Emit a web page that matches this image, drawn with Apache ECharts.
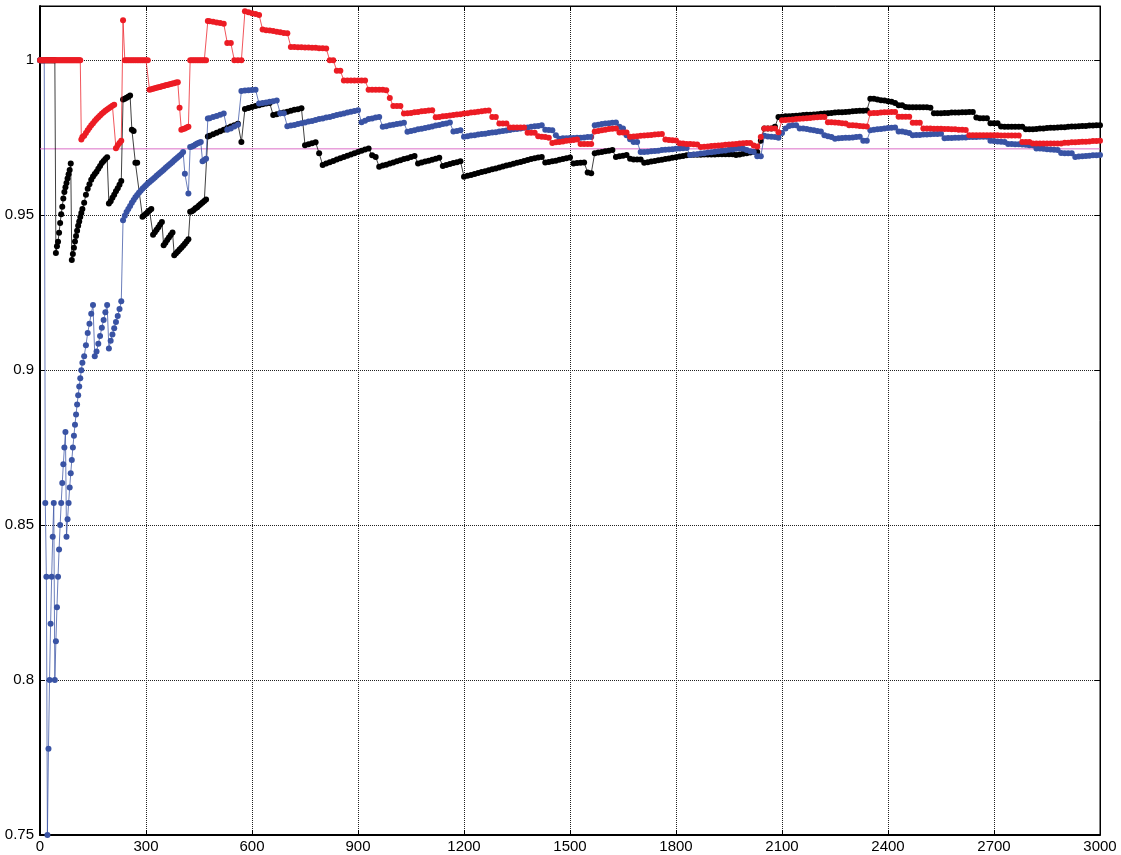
<!DOCTYPE html>
<html>
<head>
<meta charset="utf-8">
<script src="https://cdn.jsdelivr.net/npm/echarts@6/dist/echarts.min.js"></script>
<style>
  html, body { margin: 0; padding: 0; background: #fff; }
  #chart { width: 1121px; height: 855px; }
</style>
</head>
<body>
<div id="chart"></div>
<script>
// Sample positions: every 3 at the start, every 5 through the early swings, then every 10.
const xsEarly = [0,3,6,9,12,15,18,21,24,27,30,33,36,39,42,45,48,51,54,57,60,63,66,69,72,75,78,81,84,87,90,93,96,99,102,105,108,111,114,117,120];
const xsMid = [
  125,130,135,140,145,150,155,160,165,170,175,180,185,190,195,
  200,205,210,215,220,225,230,235,240,245,250,255,260,265,270,275,280,285,290,295,
  300,305,310,315,320,325,330,335,340,345,350,355,360,365,370,375,380,385,390,395,
  400,405,410,415,420,425,430,435,440,445,450,455,460,465,470,475
];
const xsLate = [
  480,490,
  500,510,520,530,540,550,560,570,580,590,
  600,610,620,630,640,650,660,670,680,690,
  700,710,720,730,740,750,760,770,780,790,
  800,810,820,830,840,850,860,870,880,890,
  900,910,920,930,940,950,960,970,980,990,
  1000,1010,1020,1030,1040,1050,1060,1070,1080,1090,
  1100,1110,1120,1130,1140,1150,1160,1170,1180,1190,
  1200,1210,1220,1230,1240,1250,1260,1270,1280,1290,
  1300,1310,1320,1330,1340,1350,1360,1370,1380,1390,
  1400,1410,1420,1430,1440,1450,1460,1470,1480,1490,
  1500,1510,1520,1530,1540,1550,1560,1570,1580,1590,
  1600,1610,1620,1630,1640,1650,1660,1670,1680,1690,
  1700,1710,1720,1730,1740,1750,1760,1770,1780,1790,
  1800,1810,1820,1830,1840,1850,1860,1870,1880,1890,
  1900,1910,1920,1930,1940,1950,1960,1970,1980,1990,
  2000,2010,2020,2030,2040,2050,2060,2070,2080,2090,
  2100,2110,2120,2130,2140,2150,2160,2170,2180,2190,
  2200,2210,2220,2230,2240,2250,2260,2270,2280,2290,
  2300,2310,2320,2330,2340,2350,2360,2370,2380,2390,
  2400,2410,2420,2430,2440,2450,2460,2470,2480,2490,
  2500,2510,2520,2530,2540,2550,2560,2570,2580,2590,
  2600,2610,2620,2630,2640,2650,2660,2670,2680,2690,
  2700,2710,2720,2730,2740,2750,2760,2770,2780,2790,
  2800,2810,2820,2830,2840,2850,2860,2870,2880,2890,
  2900,2910,2920,2930,2940,2950,2960,2970,2980,2990,
  3000
];

const redEarly = [
  1,1,1,1,1,1,1,1,1,1,
  1,1,1,1,1,1,1,1,1,1,
  1,1,1,1,1,1,1,1,1,1,
  1,1,1,1,1,1,1,1,1,
  0.9744,0.9752
];
const redMid = [
  0.9756,0.9765,0.9774,0.9782,0.979,0.9797,0.9804,0.981,0.9816,0.9822,0.9827,0.9832,0.9837,0.9841,0.9845,
  0.9849,0.9853,0.9856,0.9716,0.9726,0.9733,0.974,1.0129,1,1,1,1,1,1,1,1,1,1,1,1,
  1,1,0.9905,0.9906,0.9908,0.991,0.9911,0.9913,0.9914,0.9916,0.9917,0.9919,0.992,0.9922,0.9923,0.9925,0.9926,0.9928,0.9929,0.9847,
  0.9776,0.9778,0.978,0.9783,0.9785,1,1,1,1,1,1,1,1,1,1,1.0127
];
const redLate = [
  1.0126,1.0124,
  1.0122,1.012,1.0118,1.0056,1.0056,1,1,1,1.0158,1.0155,
  1.0152,1.0149,1.0146,1.0099,1.0097,1.0096,1.0094,1.0092,1.009,1.0088,
  1.0087,1.0043,1.0043,1.0042,1.0042,1.0041,1.0041,1.004,1.004,1.0039,
  1.0039,1.0038,1,1,0.9966,0.9966,0.9935,0.9935,0.9935,0.9935,
  0.9935,0.9935,0.9935,0.9905,0.9905,0.9905,0.9905,0.9905,0.9903,0.9878,
  0.9852,0.9852,0.9852,0.9828,0.9829,0.983,0.9832,0.9833,0.9835,0.9836,
  0.9838,0.9839,0.9816,0.9817,0.9819,0.982,0.9822,0.9823,0.9825,0.9826,
  0.9828,0.9829,0.9831,0.9832,0.9834,0.9835,0.9837,0.9838,0.9817,0.9817,
  0.9796,0.9796,0.9796,0.9783,0.9783,0.9783,0.9783,0.9783,0.9766,0.9766,
  0.9766,0.9755,0.9753,0.9752,0.975,0.9733,0.9735,0.9736,0.9738,0.974,
  0.9741,0.9743,0.9744,0.973,0.973,0.973,0.973,0.977,0.9772,0.9774,
  0.9776,0.9778,0.9779,0.978,0.9767,0.9767,0.9767,0.9753,0.9754,0.9755,
  0.9756,0.9757,0.9758,0.9759,0.976,0.9761,0.9762,0.9744,0.9743,0.9742,
  0.9741,0.9732,0.9731,0.973,0.973,0.9729,0.9728,0.972,0.9721,0.9722,
  0.9723,0.9724,0.9725,0.9726,0.9727,0.9728,0.9729,0.973,0.9731,0.9732,
  0.9733,0.9733,0.9725,0.9722,0.9752,0.978,0.978,0.978,0.978,0.9768,
  0.9806,0.9807,0.9808,0.9809,0.981,0.9811,0.9812,0.9813,0.9814,0.9815,
  0.9816,0.9817,0.9817,0.98,0.98,0.9799,0.9798,0.9797,0.9796,0.979,
  0.979,0.9789,0.9788,0.9787,0.9786,0.9829,0.983,0.983,0.9831,0.9832,
  0.9832,0.9833,0.9833,0.9818,0.9818,0.9818,0.9818,0.9798,0.9798,0.9798,
  0.978,0.978,0.978,0.9779,0.9779,0.9779,0.9778,0.9778,0.9777,0.9777,
  0.9776,0.9776,0.9775,0.9758,0.9758,0.9758,0.9758,0.9758,0.9758,0.9758,
  0.9758,0.9758,0.9757,0.9757,0.9757,0.9757,0.9757,0.9757,0.9736,0.9736,
  0.9736,0.9731,0.9731,0.9731,0.9731,0.9731,0.9731,0.9731,0.9731,0.9731,
  0.9734,0.9734,0.9735,0.9735,0.9736,0.9737,0.9737,0.9738,0.9739,0.9739,
  0.974
];

const blackEarly = [
  1,1,1,1,1,1,1,1,1,1,1,1,1,1,1,
  0.9378,0.94,0.9414,0.9443,0.9475,0.9503,0.9527,0.9554,0.9575,0.959,0.9604,0.9618,0.9632,0.9646,0.9667,
  0.9355,0.9375,0.9395,0.9415,0.9433,0.945,0.9466,0.948,0.9494,0.9507,0.952
];
const blackMid = [
  0.954,0.9566,0.9585,0.96,0.9614,0.9625,0.9633,0.964,0.965,0.9659,0.9668,0.9675,0.9681,0.9687,0.9538,
  0.9545,0.9556,0.9566,0.9577,0.9587,0.9598,0.961,0.9873,0.9876,0.9879,0.9882,0.9886,0.9776,0.9772,0.9669,0.9669,null,null,0.9495,0.95,
  0.9505,0.951,0.9515,0.952,0.9437,0.9445,0.9453,0.9461,0.947,0.9478,0.9403,0.9411,0.942,0.9428,0.9436,0.9444,0.9371,0.9377,0.9383,0.9389,
  0.9395,0.9401,0.9408,0.9415,0.9422,0.9511,0.9513,0.9517,0.9522,0.9526,0.9531,0.9536,0.9541,0.9546,0.9551,0.9754
];
const blackLate = [
  0.9756,0.9761,
  0.9766,0.9771,0.9776,0.9781,0.9786,0.979,0.9795,0.9736,0.9843,0.9846,
  0.9849,0.9852,0.9855,0.9858,0.986,0.9862,0.9823,0.9826,0.9829,0.9831,
  0.9834,0.9837,0.984,0.9842,0.9845,0.9726,0.9729,0.9732,0.9735,0.97,
  0.9662,0.9667,0.9671,0.9675,0.968,0.9684,0.9688,0.9692,0.9696,0.97,
  0.9704,0.9708,0.9712,0.9715,0.9693,0.9688,0.9656,0.966,0.9663,0.9667,
  0.967,0.9674,0.9677,0.9681,0.9684,0.9688,0.9691,0.9667,0.967,0.9673,
  0.9676,0.9679,0.9682,0.9685,0.9659,0.9662,0.9665,0.9668,0.9671,0.9674,
  0.9624,0.9627,0.963,0.9633,0.9636,0.9639,0.9642,0.9645,0.9648,0.9651,
  0.9654,0.9657,0.966,0.9663,0.9666,0.9669,0.9672,0.9675,0.9678,0.9681,
  0.9684,0.9686,0.9688,0.967,0.9672,0.9674,0.9676,0.9679,0.9681,0.9684,
  0.9686,0.9667,0.9668,0.9669,0.967,0.9638,0.9635,0.97,0.9702,0.9704,
  0.9706,0.9708,0.971,0.9688,0.969,0.9692,0.9694,0.9682,0.968,0.968,
  0.968,0.9669,0.9671,0.9673,0.9675,0.9677,0.9679,0.9681,0.9683,0.9685,
  0.9687,0.9689,0.9691,0.9693,0.9694,0.9695,0.9695,0.9695,0.9696,0.9696,
  0.9696,0.9696,0.9697,0.9697,0.9697,0.9697,0.9697,0.9694,0.9696,0.9698,
  0.97,0.9702,0.9704,0.9704,0.974,0.978,0.978,0.978,0.9785,0.9817,
  0.9818,0.9819,0.9819,0.982,0.9821,0.9822,0.9823,0.9824,0.9824,0.9825,
  0.9826,0.9827,0.9828,0.9829,0.983,0.9831,0.9832,0.9832,0.9833,0.9834,
  0.9835,0.9836,0.9837,0.9837,0.9838,0.9876,0.9876,0.9873,0.9871,0.987,
  0.9868,0.9866,0.9862,0.9855,0.9855,0.9849,0.9848,0.9848,0.9848,0.9848,
  0.9848,0.9848,0.9847,0.9829,0.9829,0.9829,0.983,0.983,0.9831,0.9831,
  0.9831,0.9832,0.9832,0.9833,0.9833,0.9815,0.9813,0.9813,0.9813,0.9797,
  0.9797,0.9797,0.9786,0.9785,0.9785,0.9785,0.9785,0.9785,0.9785,0.9777,
  0.9777,0.9777,0.9778,0.978,0.978,0.9781,0.9782,0.9782,0.9783,0.9784,
  0.9784,0.9785,0.9786,0.9786,0.9787,0.9788,0.9788,0.9789,0.9789,0.979,
  0.979
];

const blueEarly = [
  1,1,1,1,1,
  0.8571,0.8333,0.75,0.7778,0.8,0.8182,0.8333,0.8462,0.8571,
  0.8,0.8125,0.8235,0.8333,0.8421,0.85,0.8571,0.8636,0.8696,0.875,0.88,
  0.8462,0.8519,0.8571,0.8621,0.8667,0.871,0.875,0.8788,0.8824,0.8857,0.8889,0.8919,0.8947,0.8974,0.9,0.9024
];
const blueMid = [
  0.9045,0.908,0.912,0.915,0.9182,0.921,0.9045,0.906,0.9085,0.911,0.9137,0.9162,0.9187,0.921,0.907,
  0.9095,0.9115,0.9135,0.9155,0.9175,0.9197,0.9222,0.9484,0.9498,0.951,0.952,0.953,0.954,0.9549,0.9558,0.9565,0.9572,0.9579,0.9585,0.9591,
  0.9597,0.9602,0.9607,0.9612,0.9617,0.9622,0.9627,0.9632,0.9637,0.9642,0.9647,0.9652,0.9657,0.9662,0.9667,0.9672,0.9677,0.9682,0.9687,0.9692,
  0.9697,0.9704,0.9634,null,0.957,0.972,0.9722,0.9724,0.9728,0.9731,0.9734,0.9736,0.9674,0.9678,0.9682,0.9812
];
const blueLate = [
  0.9813,0.9817,
  0.982,0.9824,0.9828,0.9776,0.978,0.9786,0.9792,0.9901,0.9902,0.9903,
  0.9904,0.9905,0.986,0.9862,0.9864,0.9866,0.9868,0.987,0.9829,0.9829,
  0.9787,0.9789,0.9791,0.9794,0.9797,0.9799,0.9802,0.9804,0.9807,0.981,
  0.9812,0.9815,0.9817,0.982,0.9823,0.9826,0.9828,0.9831,0.9834,0.9836,
  0.9839,0.98,0.9805,0.981,0.9812,0.9815,0.9817,0.9785,0.9787,0.979,
  0.9792,0.9794,0.9796,0.9798,0.9769,0.9772,0.9774,0.9777,0.9779,0.9781,
  0.9784,0.9786,0.9789,0.9791,0.9794,0.9796,0.9799,0.977,0.9772,0.9774,
  0.9753,0.9755,0.9757,0.9758,0.976,0.9762,0.9763,0.9765,0.9767,0.9768,
  0.977,0.9772,0.9773,0.9775,0.9777,0.9778,0.978,0.9782,0.9783,0.9785,
  0.9787,0.9788,0.979,0.9776,0.9775,0.9774,0.9758,0.9747,0.9748,0.9748,
  0.9749,0.9749,0.975,0.975,0.9751,0.9752,0.9752,0.979,0.9792,0.9794,
  0.9796,0.9797,0.9798,0.9799,0.9785,0.978,0.9758,0.9745,0.9736,0.9736,
  0.9704,0.9704,0.9705,0.9706,0.9707,0.9708,0.971,0.9711,0.9712,0.9713,
  0.9714,0.9715,0.9716,0.9717,0.9694,0.9696,0.9697,0.9699,0.97,0.9702,
  0.9703,0.9705,0.9706,0.9708,0.9709,0.9711,0.9712,0.9714,0.9715,0.9714,
  0.971,0.9706,0.9704,0.969,0.969,0.9756,0.9754,0.9753,0.9752,0.975,
  0.9765,0.978,0.9788,0.979,0.979,0.978,0.978,0.9778,0.9776,0.9774,
  0.9772,0.977,0.9758,0.9755,0.9752,0.9747,0.9748,0.9749,0.975,0.975,
  0.9751,0.9752,0.9753,0.974,0.974,0.9774,0.9776,0.9777,0.9778,0.978,
  0.9781,0.9782,0.9783,0.977,0.977,0.9768,0.9765,0.9758,0.9759,0.9759,
  0.976,0.976,0.9761,0.9762,0.9762,0.9763,0.9748,0.9749,0.9749,0.975,
  0.975,0.9751,0.9751,0.9752,0.9752,0.9752,0.9753,0.9753,0.9753,0.974,
  0.9739,0.9738,0.9737,0.9736,0.973,0.973,0.9729,0.9729,0.9728,0.9727,
  0.9726,0.9726,0.9715,0.9715,0.9714,0.9713,0.9712,0.9711,0.971,0.9701,
  0.97,0.97,0.97,0.9688,0.9689,0.969,0.9691,0.9692,0.9693,0.9693,
  0.9694
];

// Reference level drawn across the plot
const referenceLevel = 0.9714;

const xTicks = { min: 0, max: 3000, interval: 300 };
const yTicks = { min: 0.75, max: 1.0175, interval: 0.05 };

const xs = xsEarly.concat(xsMid, xsLate);
const redVals = redEarly.concat(redMid, redLate);
const blackVals = blackEarly.concat(blackMid, blackLate);
const blueVals = blueEarly.concat(blueMid, blueLate);

function pairs(vals) {
  return xs.map((x, i) => [x, vals[i]]);
}

const labelFont = { fontFamily: 'Liberation Sans', fontSize: 15, color: '#000' };

function dotSeries(name, color, vals, z) {
  return {
    name: name,
    type: 'line',
    data: pairs(vals),
    z: z,
    connectNulls: true,
    symbol: 'circle',
    symbolSize: 6,
    showSymbol: true,
    itemStyle: { color: color },
    lineStyle: { color: color, width: 1, opacity: 0.75 },
    emphasis: { disabled: true },
    animation: false
  };
}

const chart = echarts.init(document.getElementById('chart'), null, { renderer: 'canvas' });
chart.setOption({
  backgroundColor: '#ffffff',
  animation: false,
  grid: { left: 40, right: 21, top: 6, bottom: 20, show: true, borderColor: '#000', borderWidth: 1, backgroundColor: 'transparent' },
  xAxis: [{
    type: 'value', position: 'bottom',
    min: xTicks.min, max: xTicks.max, interval: xTicks.interval,
    axisLine: { show: true, onZero: false, lineStyle: { color: '#000', width: 2 } },
    axisTick: { show: true, inside: true, length: 5, lineStyle: { color: '#000' } },
    axisLabel: Object.assign({ margin: 4, formatter: v => String(v) }, labelFont),
    splitLine: { show: true, lineStyle: { color: '#222', width: 1, type: [1, 1] } }
  }, {
    type: 'value', position: 'top',
    min: xTicks.min, max: xTicks.max, interval: xTicks.interval,
    axisLine: { show: true, onZero: false, lineStyle: { color: '#000', width: 1 } },
    axisTick: { show: true, inside: true, length: 5, lineStyle: { color: '#000' } },
    axisLabel: { show: false },
    splitLine: { show: false }
  }],
  yAxis: [{
    type: 'value', position: 'left',
    min: yTicks.min, max: yTicks.max, interval: yTicks.interval,
    axisLine: { show: true, onZero: false, lineStyle: { color: '#000', width: 2 } },
    axisTick: { show: true, inside: true, length: 5, lineStyle: { color: '#000' } },
    axisLabel: Object.assign({
      margin: 6, showMaxLabel: false,
      formatter: v => (v > 1.01 ? '' : String(+v.toFixed(2)))
    }, labelFont),
    splitLine: { show: true, lineStyle: { color: '#222', width: 1, type: [1, 1] } }
  }, {
    type: 'value', position: 'right',
    min: yTicks.min, max: yTicks.max, interval: yTicks.interval,
    axisLine: { show: true, onZero: false, lineStyle: { color: '#000', width: 1 } },
    axisTick: { show: true, inside: true, length: 5, lineStyle: { color: '#000' } },
    axisLabel: { show: false },
    splitLine: { show: false }
  }],
  series: [
    {
      name: 'level', type: 'line', z: 1, silent: true,
      data: [[xTicks.min, referenceLevel], [xTicks.max, referenceLevel]],
      showSymbol: false, symbol: 'none',
      lineStyle: { color: '#dc6fc8', width: 1, type: 'solid' },
      itemStyle: { color: '#dc6fc8' },
      emphasis: { disabled: true },
      animation: false
    },
    dotSeries('black', '#000000', blackVals, 2),
    dotSeries('blue', '#3953a4', blueVals, 3),
    dotSeries('red', '#ec1c24', redVals, 4)
  ]
});
</script>
</body>
</html>
